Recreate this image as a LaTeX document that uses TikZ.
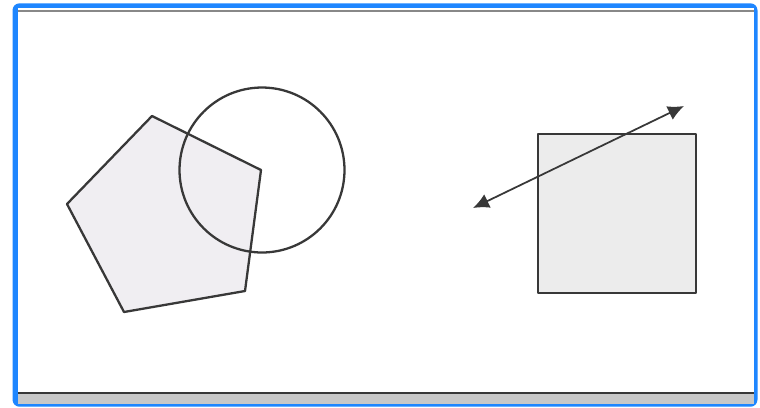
\documentclass[tikz,border=0pt]{standalone}
\usetikzlibrary{arrows.meta}
\definecolor{frameblue}{HTML}{1E86FF}
\definecolor{shapefill}{HTML}{F0EEF2}
\definecolor{sqfill}{HTML}{ECECEC}
\definecolor{ink}{HTML}{383838}
\definecolor{bandgray}{HTML}{C8C8C8}
\tikzset{
  shapeline/.style={draw=ink, line width=1.3pt, line join=round},
  arrowline/.style={draw=ink, line width=1pt, {Latex[length=0.32cm,width=0.3cm]}-{Latex[length=0.32cm,width=0.3cm]}},
}
\begin{document}
\begin{tikzpicture}[x=0.02cm,y=-0.02cm]
\useasboundingbox (0,0) rectangle (760,407);
% frame
\fill[frameblue, rounded corners=4pt] (12.5,3.3) rectangle (757.5,406.7);
\fill[white] (18,8) rectangle (754,404);
\fill[bandgray] (18,394) rectangle (754,404);
\draw[ink, line width=1.4pt] (18,393) -- (754,393);
\draw[ink!60, line width=0.9pt] (18,11) -- (754,11);
% pentagon
\coordinate (p1) at (152,116);
\coordinate (p2) at (261,170);
\coordinate (p3) at (245,291);
\coordinate (p4) at (124,312);
\coordinate (p5) at (67,204);
\filldraw[shapeline, fill=shapefill] (p1) -- (p2) -- (p3) -- (p4) -- (p5) -- cycle;
% circle
\node[shapeline, circle, minimum size=3.3cm, inner sep=0pt] (circ) at (262,170) {};
% square
\node[shapeline, fill=sqfill, rectangle, minimum width=3.16cm, minimum height=3.18cm, inner sep=0pt] (sq) at (617,213.5) {};
% arrow
\coordinate (a1) at (473,208);
\coordinate (a2) at (684,106);
\draw[arrowline] (a1) -- (a2);
\end{tikzpicture}
\end{document}
